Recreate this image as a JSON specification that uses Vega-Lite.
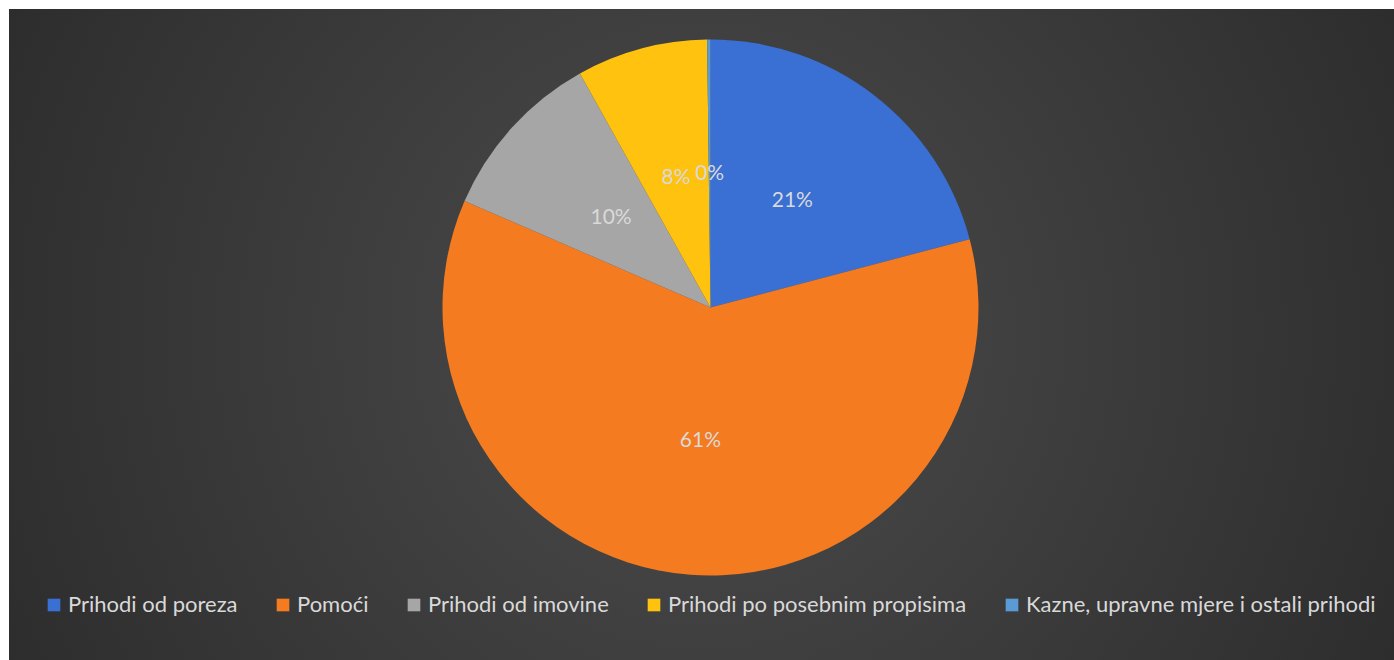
{
  "$schema": "https://vega.github.io/schema/vega-lite/v6.json",
  "width": 1385,
  "height": 651,
  "padding": {"left": 9, "top": 9, "right": 0, "bottom": 0},
  "autosize": {"type": "none"},
  "background": "white",
  "config": {"view": {"stroke": null}},
  "layer": [
    {
      "data": {"values": [{"bg": 1}]},
      "mark": {
        "type": "rect",
        "color": {
          "gradient": "radial",
          "x1": 0.5, "y1": 0.5, "r1": 0,
          "x2": 0.5, "y2": 0.5, "r2": 0.71,
          "stops": [
            {"offset": 0, "color": "#4c4c4c"},
            {"offset": 1, "color": "#242424"}
          ]
        }
      },
      "encoding": {}
    },
    {
      "data": {
        "values": [
          {"k": "Prihodi od poreza", "v": 0.209, "o": 1},
          {"k": "Pomoći", "v": 0.606, "o": 2},
          {"k": "Prihodi od imovine", "v": 0.104, "o": 3},
          {"k": "Prihodi po posebnim propisima", "v": 0.079, "o": 4},
          {"k": "Kazne, upravne mjere i ostali prihodi", "v": 0.002, "o": 5}
        ]
      },
      "encoding": {
        "theta": {"field": "v", "type": "quantitative", "stack": true},
        "order": {"field": "o", "type": "quantitative"}
      },
      "layer": [
        {
          "mark": {"type": "arc", "outerRadius": 268, "xOffset": 9, "yOffset": -27},
          "encoding": {
            "color": {
              "field": "k",
              "type": "nominal",
              "scale": {
                "domain": ["Prihodi od poreza", "Pomoći", "Prihodi od imovine", "Prihodi po posebnim propisima", "Kazne, upravne mjere i ostali prihodi"],
                "range": ["#3A6FD4", "#F47B20", "#A6A6A6", "#FFC20E", "#5B9BD5"]
              },
              "legend": {
                "orient": "none",
                "legendX": 34,
                "legendY": 585,
                "direction": "horizontal",
                "title": null,
                "symbolType": "square",
                "symbolSize": 160,
                "symbolStrokeWidth": 0,
                "labelFont": "Lato",
                "labelFontSize": 22,
                "labelColor": "#d9d9d9",
                "labelLimit": 0,
                "labelOffset": 3,
                "columnPadding": 34
              }
            }
          }
        },
        {
          "mark": {"type": "text", "radius": 134, "xOffset": 9, "yOffset": -27, "font": "Lato", "fontSize": 21, "fill": "#d9d9d9"},
          "encoding": {
            "detail": {"field": "k", "type": "nominal"},
            "text": {"field": "v", "type": "quantitative", "format": ".0%"}
          }
        }
      ]
    }
  ]
}
